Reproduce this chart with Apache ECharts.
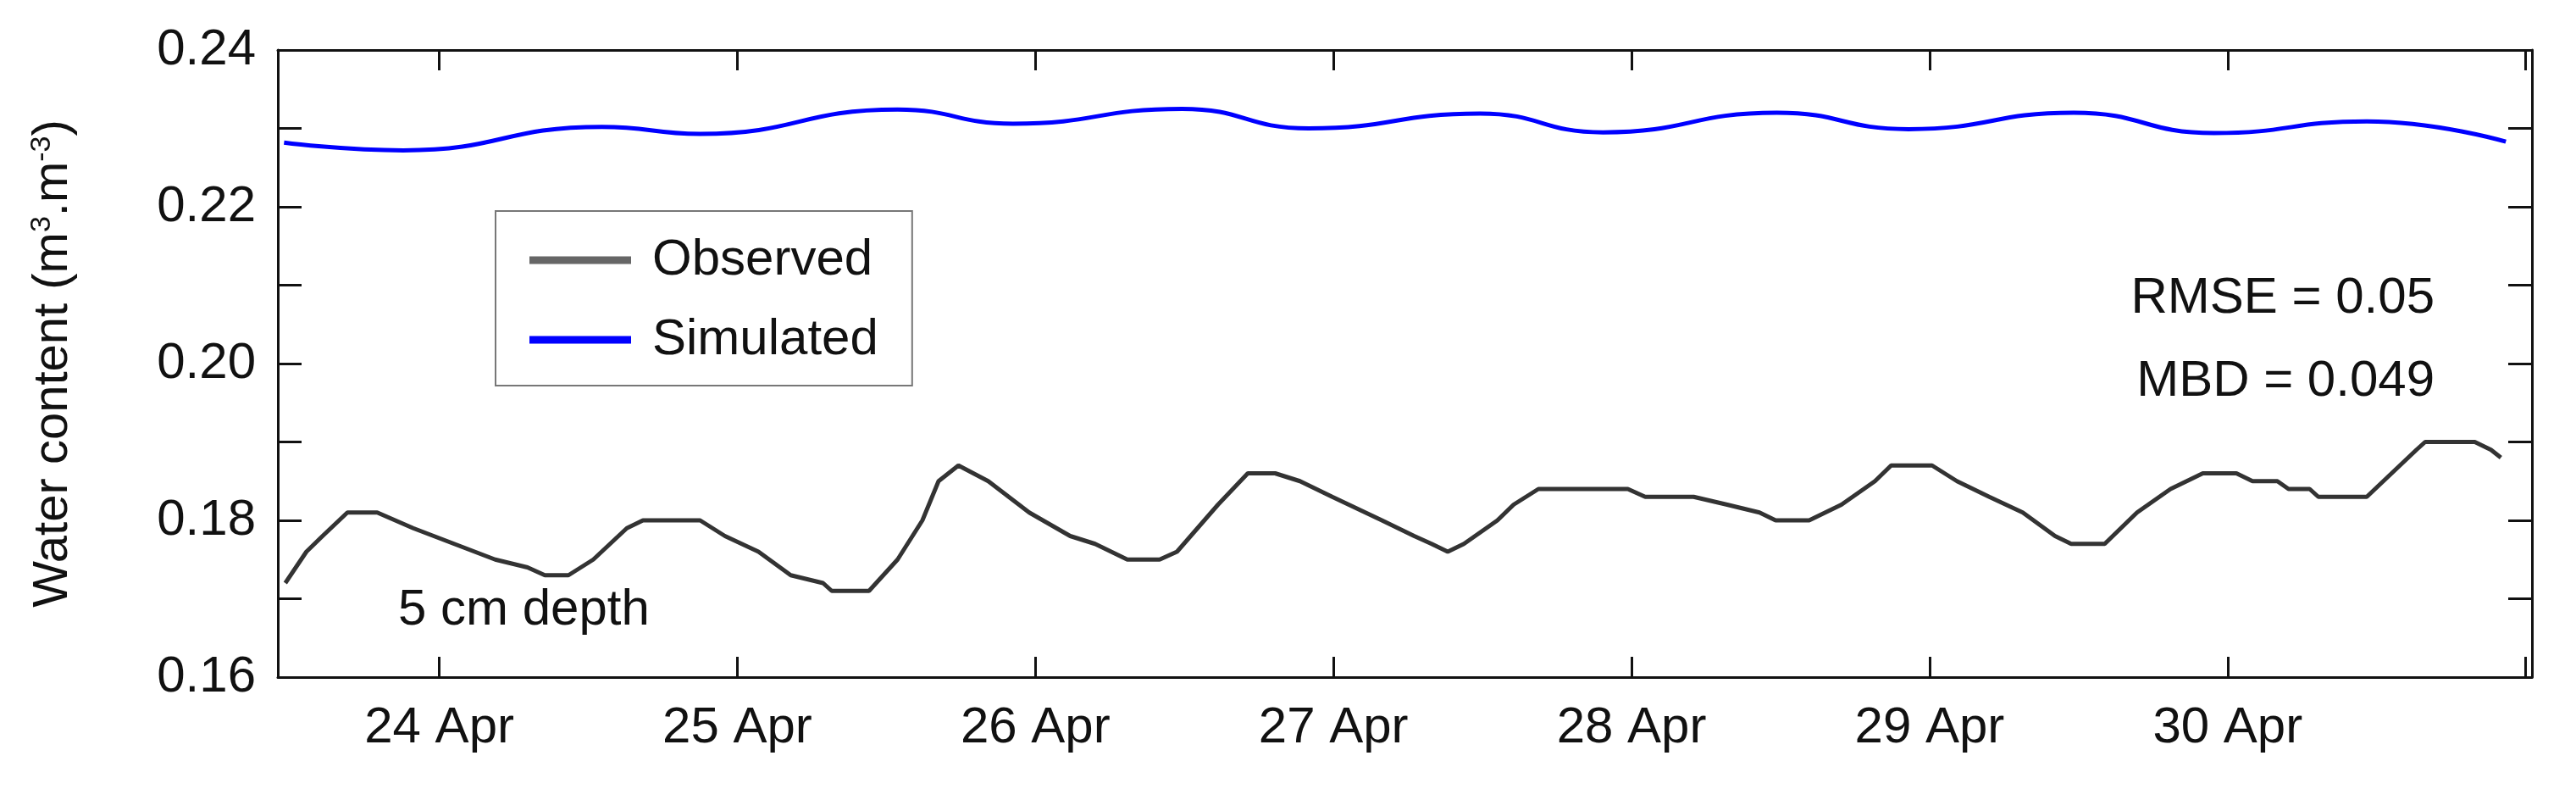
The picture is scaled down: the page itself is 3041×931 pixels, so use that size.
<!DOCTYPE html>
<html><head><meta charset="utf-8">
<script src="https://cdn.jsdelivr.net/npm/echarts@6/dist/echarts.min.js"></script>
<style>html,body{margin:0;padding:0;background:#fff}#c{width:3041px;height:931px}</style>
</head><body><div id="c"></div>
<script>
// hours since 23 Apr 00:00
const obsHours = [11.6,13.3,14.6,16.6,19.0,21.9,25.2,28.5,31.1,32.5,34.4,36.4,39.1,40.4,45.0,47.0,49.7,52.3,54.9,55.6,58.6,60.9,62.9,64.2,65.8,68.2,71.5,74.8,76.8,79.4,82.0,83.4,86.7,89.1,91.3,93.3,95.9,99.9,102.5,103.9,105.2,106.5,109.2,110.5,112.5,119.7,121.1,125.0,127.7,130.3,131.6,134.3,135.6,136.9,139.6,140.9,144.2,146.2,148.8,151.5,154.1,155.4,158.1,160.7,163.4,166.0,168.7,170.0,172.0,172.9,174.6,175.3,179.2,181.2,183.2,183.9,187.9,189.2,190.0];
const obsValues = [0.172,0.176,0.178,0.181,0.181,0.179,0.177,0.175,0.174,0.173,0.173,0.175,0.179,0.180,0.180,0.178,0.176,0.173,0.172,0.171,0.171,0.175,0.180,0.185,0.187,0.185,0.181,0.178,0.177,0.175,0.175,0.176,0.182,0.186,0.186,0.185,0.183,0.180,0.178,0.177,0.176,0.177,0.180,0.182,0.184,0.184,0.183,0.183,0.182,0.181,0.180,0.180,0.181,0.182,0.185,0.187,0.187,0.185,0.183,0.181,0.178,0.177,0.177,0.181,0.184,0.186,0.186,0.185,0.185,0.184,0.184,0.183,0.183,0.186,0.189,0.190,0.190,0.189,0.188];
const simHours = [11.5,21.1,37.1,45.0,60.9,70.2,83.8,94.0,107.8,117.7,131.7,142.3,155.6,166.9,179.2,190.4];
const simValues = [0.2282,0.2272,0.2302,0.2293,0.2324,0.2306,0.2325,0.2300,0.2319,0.2295,0.2320,0.2299,0.2320,0.2294,0.2309,0.2283];
const seriesNames = ['Observed','Simulated'];
const yMin = 0.16, yMax = 0.24;
const xStartHour = 11, xEndHour = 192.5;

const base = new Date(2024,3,23).getTime();
const H = 3600000;
const toPts = (hs, vs) => hs.map((h,i)=>[base + h*H, vs[i]]);
const font = '"Liberation Sans Narrow", "Liberation Sans", sans-serif';
const wide = '"Liberation Sans", Arial, sans-serif';
const axLine = {show:true, lineStyle:{color:'#111',width:3}};
const tick = (len)=>({show:true, inside:true, length:len, lineStyle:{width:3,color:'#111'}});
const chart = echarts.init(document.getElementById('c'));
const xCommon = {type:'time', min: base+xStartHour*H, max: base+xEndHour*H,
  minInterval:24*H, maxInterval:24*H, splitLine:{show:false}, axisLine:axLine};
const yCommon = {type:'value', min:yMin, max:yMax, interval:0.01, splitLine:{show:false}, axisLine:axLine};
chart.setOption({
  animation:false,
  grid:{left:328, right:52, top:59, bottom:132},
  legend:{left:585, top:249, orient:'vertical', padding:[28,40,24,40], itemGap:34, icon:'rect',
    borderColor:'#777', borderWidth:2, itemWidth:120, itemHeight:9,
    textStyle:{fontFamily:font, fontSize:60, color:'#111', padding:[0,0,0,20]},
    data:[{name:'Observed', itemStyle:{color:'#666'}},{name:'Simulated', itemStyle:{color:'#0000ff'}}]},
  xAxis:[
    Object.assign({}, xCommon, {position:'bottom', axisTick:tick(24),
      axisLabel:{fontFamily:font, fontSize:60, color:'#111', margin:30, hideOverlap:false,
        formatter:v=>{const d=new Date(v);return d.getMonth()===3? d.getDate()+' Apr' : '';}}}),
    Object.assign({}, xCommon, {position:'top', axisTick:tick(24), axisLabel:{show:false}})
  ],
  yAxis:[
    Object.assign({}, yCommon, {position:'left', axisTick:tick(28),
      axisLabel:{fontFamily:font, fontSize:60, color:'#111', margin:26,
        formatter:v=>{const k=Math.round(v*100);return k%2===0? v.toFixed(2):'';}},
      name:'{a|Water content (m}{s|3}{a|.m}{s|-3}{a|)}', nameLocation:'middle', nameGap:235, nameRotate:90,
      nameTextStyle:{rich:{a:{fontFamily:wide,fontSize:58,color:'#111'},s:{fontFamily:wide,fontSize:34,color:'#111',verticalAlign:'top',padding:[0,0,26,0]}}}}),
    Object.assign({}, yCommon, {position:'right', axisTick:tick(28), axisLabel:{show:false}})
  ],
  graphic:[
    {type:'text', right:3041-2874, top:322, style:{text:'RMSE = 0.05', fontFamily:font, fontSize:60, fill:'#111', textAlign:'right'}},
    {type:'text', right:3041-2874, top:420, style:{text:'MBD = 0.049', fontFamily:font, fontSize:60, fill:'#111', textAlign:'right'}},
    {type:'text', left:470, top:690, style:{text:'5 cm depth', fontFamily:font, fontSize:60, fill:'#111'}}
  ],
  series:[
    {name:seriesNames[0], type:'line', data:toPts(obsHours,obsValues), showSymbol:false,
      lineStyle:{color:'#333', width:5}, itemStyle:{color:'#333'}},
    {name:seriesNames[1], type:'line', data:toPts(simHours,simValues), smooth:0.5, showSymbol:false,
      lineStyle:{color:'#0000ff', width:5}, itemStyle:{color:'#0000ff'}}
  ]
});
</script></body></html>
